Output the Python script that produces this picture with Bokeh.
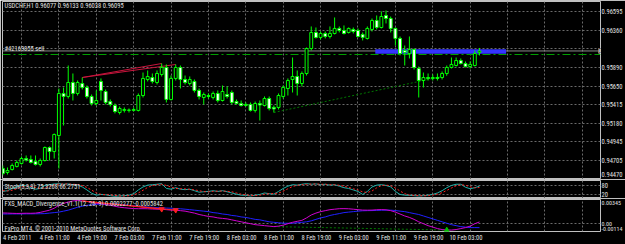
from bokeh.plotting import figure
from bokeh.layouts import column
from bokeh.models import Range1d, FixedTicker, ColumnDataSource, Label, Span
from bokeh.embed import file_html
from bokeh.resources import INLINE

# ---------------- data (USDCHF, H1) ----------------
opens = [
    0.94607, 0.94557, 0.94595, 0.94633, 0.94671, 0.94734, 0.94721, 0.94696, 0.94658, 0.94708,
    0.94873, 0.94822, 0.95025, 0.95557, 0.95519, 0.95696, 0.95557, 0.95683, 0.95633, 0.95519,
    0.95430, 0.95709, 0.95582, 0.95455, 0.95405, 0.95316, 0.95342, 0.95342, 0.95342, 0.95342,
    0.95531, 0.95734, 0.95759, 0.95696, 0.95797, 0.95886, 0.95481, 0.95747, 0.95886, 0.95734,
    0.95683, 0.95709, 0.95595, 0.95506, 0.95531, 0.95506, 0.95557, 0.95468, 0.95544, 0.95569,
    0.95455, 0.95430, 0.95405, 0.95418, 0.95342, 0.95430, 0.95405, 0.95493, 0.95380, 0.95380,
    0.95519, 0.95620, 0.95734, 0.95772, 0.95683, 0.95810, 0.96126, 0.96329, 0.96266, 0.96316,
    0.96278, 0.96316, 0.96380, 0.96354, 0.96329, 0.96367, 0.96354, 0.96304, 0.96253, 0.96367,
    0.96481, 0.96392, 0.96544, 0.96506, 0.96380, 0.96253, 0.96101, 0.96063, 0.96114, 0.95873,
    0.95721, 0.95759, 0.95747, 0.95759, 0.95759, 0.95810, 0.95886, 0.95911, 0.95974, 0.95936,
    0.95898, 0.95911, 0.96077]
highs = [
    0.94645, 0.94620, 0.94671, 0.94708, 0.94759, 0.94772, 0.94772, 0.94772, 0.94734, 0.94886,
    0.94886, 0.95050, 0.95620, 0.95633, 0.95911, 0.95810, 0.95721, 0.95759, 0.95658, 0.95544,
    0.95595, 0.95747, 0.95607, 0.95481, 0.95430, 0.95392, 0.95380, 0.95367, 0.95380, 0.95557,
    0.95822, 0.95848, 0.95810, 0.95848, 0.95936, 0.95924, 0.95784, 0.95924, 0.95911, 0.95784,
    0.95772, 0.95734, 0.95620, 0.95569, 0.95557, 0.95582, 0.95595, 0.95658, 0.95645, 0.95595,
    0.95481, 0.95468, 0.95443, 0.95443, 0.95455, 0.95468, 0.95519, 0.95519, 0.95405, 0.95557,
    0.95658, 0.95747, 0.96012, 0.95848, 0.95835, 0.96139, 0.96405, 0.96392, 0.96341, 0.96341,
    0.96405, 0.96519, 0.96405, 0.96418, 0.96392, 0.96392, 0.96380, 0.96329, 0.96405, 0.96506,
    0.96544, 0.96595, 0.96607, 0.96531, 0.96392, 0.96278, 0.96164, 0.96278, 0.96126, 0.95898,
    0.95822, 0.95810, 0.95797, 0.95810, 0.95835, 0.95911, 0.96012, 0.96012, 0.96000, 0.95962,
    0.95962, 0.96101, 0.96133]
lows = [
    0.94519, 0.94531, 0.94582, 0.94620, 0.94658, 0.94696, 0.94671, 0.94645, 0.94633, 0.94696,
    0.94708, 0.94734, 0.94607, 0.95152, 0.95493, 0.95468, 0.95531, 0.95607, 0.95493, 0.95405,
    0.95405, 0.95468, 0.95418, 0.95392, 0.95304, 0.95291, 0.95316, 0.95316, 0.95329, 0.95329,
    0.95506, 0.95709, 0.95683, 0.95671, 0.95772, 0.95443, 0.95468, 0.95721, 0.95620, 0.95671,
    0.95658, 0.95569, 0.95481, 0.95418, 0.95493, 0.95481, 0.95443, 0.95455, 0.95493, 0.95418,
    0.95418, 0.95392, 0.95392, 0.95329, 0.95316, 0.95215, 0.95392, 0.95342, 0.95316, 0.95354,
    0.95493, 0.95531, 0.95569, 0.95531, 0.95645, 0.95784, 0.96101, 0.96253, 0.96240, 0.96253,
    0.96253, 0.96304, 0.96329, 0.96304, 0.96316, 0.96316, 0.96266, 0.96228, 0.96240, 0.96341,
    0.96367, 0.96380, 0.96443, 0.96329, 0.96164, 0.96038, 0.95911, 0.96000, 0.95860, 0.95506,
    0.95633, 0.95721, 0.95721, 0.95721, 0.95734, 0.95784, 0.95873, 0.95898, 0.95924, 0.95886,
    0.95873, 0.95898, 0.96038]
closes = [
    0.94544, 0.94582, 0.94645, 0.94683, 0.94734, 0.94715, 0.94683, 0.94658, 0.94708, 0.94873,
    0.94822, 0.95038, 0.95557, 0.95519, 0.95696, 0.95557, 0.95696, 0.95633, 0.95519, 0.95430,
    0.95468, 0.95595, 0.95443, 0.95418, 0.95329, 0.95367, 0.95354, 0.95348, 0.95354, 0.95531,
    0.95747, 0.95772, 0.95709, 0.95810, 0.95886, 0.95481, 0.95747, 0.95886, 0.95734, 0.95696,
    0.95734, 0.95595, 0.95519, 0.95544, 0.95519, 0.95557, 0.95468, 0.95582, 0.95519, 0.95443,
    0.95430, 0.95405, 0.95418, 0.95342, 0.95430, 0.95411, 0.95493, 0.95367, 0.95361, 0.95531,
    0.95633, 0.95721, 0.95772, 0.95683, 0.95810, 0.96126, 0.96329, 0.96266, 0.96316, 0.96278,
    0.96316, 0.96380, 0.96354, 0.96316, 0.96380, 0.96341, 0.96278, 0.96266, 0.96380, 0.96481,
    0.96392, 0.96531, 0.96506, 0.96380, 0.96253, 0.96063, 0.96076, 0.96114, 0.95886, 0.95721,
    0.95759, 0.95747, 0.95759, 0.95747, 0.95810, 0.95886, 0.95924, 0.95974, 0.95936, 0.95898,
    0.95924, 0.96063, 0.96095]

stoch_main = [
    40, 45, 60, 70, 80, 78, 65, 55, 60, 80,
    85, 90, 92, 88, 90, 85, 82, 70, 50, 28,
    15, 20, 18, 12, 8, 10, 12, 15, 25, 50,
    70, 82, 85, 88, 92, 60, 55, 65, 55, 52,
    55, 45, 35, 38, 40, 45, 40, 45, 38, 30,
    22, 15, 14, 10, 15, 20, 30, 25, 22, 40,
    60, 75, 85, 82, 88, 92, 88, 90, 85, 88,
    82, 85, 75, 65, 60, 50, 40, 20, 40, 70,
    82, 85, 80, 70, 40, 20, 15, 14, 12, 10,
    12, 15, 20, 30, 45, 65, 80, 88, 88, 68,
    58, 65, 75.3268]
stoch_signal = [
    45, 43, 48, 58, 70, 76, 74, 66, 60, 65,
    75, 85, 89, 90, 90, 88, 86, 79, 67, 49,
    31, 21, 18, 17, 13, 10, 10, 12, 17, 30,
    48, 67, 79, 85, 88, 80, 69, 60, 58, 57,
    54, 51, 45, 39, 38, 41, 42, 43, 41, 38,
    30, 22, 17, 13, 13, 15, 22, 25, 26, 29,
    41, 58, 73, 81, 85, 87, 89, 90, 88, 88,
    85, 85, 81, 75, 67, 58, 50, 37, 33, 43,
    64, 79, 82, 78, 63, 43, 25, 16, 14, 12,
    11, 12, 16, 22, 32, 47, 63, 78, 85, 81,
    71, 64, 66.2751]

macd_main = [
    0.00152, 0.00150, 0.00147, 0.00145, 0.00146, 0.00148, 0.00147, 0.00150, 0.00160, 0.00176,
    0.00192, 0.00220, 0.00262, 0.00289, 0.00310, 0.00324, 0.00331, 0.00324, 0.00317, 0.00303,
    0.00289, 0.00282, 0.00275, 0.00262, 0.00248, 0.00234, 0.00227, 0.00220, 0.00215, 0.00213,
    0.00213, 0.00212, 0.00208, 0.00206, 0.00206, 0.00199, 0.00193, 0.00192, 0.00185, 0.00178,
    0.00164, 0.00150, 0.00130, 0.00116, 0.00102, 0.00095, 0.00081, 0.00074, 0.00067, 0.00053,
    0.00039, 0.00025, 0.00011, -0.00002, -0.00016, -0.00023, -0.00030, -0.00037, -0.00044, -0.00037,
    -0.00023, -0.00002, 0.00018, 0.00032, 0.00046, 0.00081, 0.00123, 0.00150, 0.00171, 0.00185,
    0.00199, 0.00206, 0.00213, 0.00214, 0.00212, 0.00206, 0.00199, 0.00193, 0.00192, 0.00193,
    0.00198, 0.00200, 0.00197, 0.00185, 0.00164, 0.00137, 0.00109, 0.00088, 0.00060, 0.00025,
    -0.00002, -0.00030, -0.00051, -0.00072, -0.00086, -0.00093, -0.00093, -0.00086, -0.00072, -0.00058,
    -0.00037, -0.00002, 0.0002277]
macd_signal = [
    0.00137, 0.00137, 0.00138, 0.00138, 0.00138, 0.00139, 0.00139, 0.00140, 0.00141, 0.00143,
    0.00150, 0.00157, 0.00164, 0.00178, 0.00192, 0.00213, 0.00234, 0.00248, 0.00262, 0.00269,
    0.00275, 0.00280, 0.00282, 0.00282, 0.00281, 0.00275, 0.00269, 0.00262, 0.00255, 0.00248,
    0.00241, 0.00238, 0.00234, 0.00229, 0.00227, 0.00222, 0.00220, 0.00215, 0.00212, 0.00206,
    0.00199, 0.00192, 0.00185, 0.00178, 0.00171, 0.00157, 0.00150, 0.00137, 0.00130, 0.00116,
    0.00109, 0.00095, 0.00088, 0.00074, 0.00060, 0.00053, 0.00039, 0.00025, 0.00018, 0.00011,
    0.00005, 0.00004, 0.00005, 0.00011, 0.00018, 0.00025, 0.00039, 0.00060, 0.00081, 0.00095,
    0.00116, 0.00130, 0.00143, 0.00157, 0.00164, 0.00171, 0.00178, 0.00183, 0.00185, 0.00186,
    0.00189, 0.00191, 0.00192, 0.00192, 0.00187, 0.00178, 0.00171, 0.00157, 0.00143, 0.00130,
    0.00109, 0.00088, 0.00067, 0.00046, 0.00025, 0.00005, -0.00016, -0.00030, -0.00044, -0.00051,
    -0.00058, -0.00058, -0.0005842]

price_ticks = [0.96595, 0.96360, 0.96125, 0.95890, 0.95650, 0.95415, 0.95180, 0.94945, 0.94705, 0.94470]
price_tick_labels = ["0.96595", "0.96360", "", "0.95890", "0.95650", "0.95415",
                     "0.95180", "0.94945", "0.94705", "0.94470"]
stoch_levels = [80, 20]
stoch_level_labels = ["80", "20"]
macd_tick_values = [0.00345, 0.0, -0.00114]
macd_tick_labels = ["0.00345", "0.00", "-0.00114"]
time_bars = [0, 8, 16, 24, 32, 40, 48, 56, 64, 72, 80, 88, 96]
time_labels = ["4 Feb 2011", "4 Feb 11:00", "4 Feb 19:00", "7 Feb 03:00", "7 Feb 11:00",
               "7 Feb 19:00", "8 Feb 03:00", "8 Feb 11:00", "8 Feb 19:00", "9 Feb 03:00",
               "9 Feb 11:00", "9 Feb 19:00", "10 Feb 03:00"]
grid_bars = [4, 12, 20, 28, 36, 44, 52, 60, 68, 76, 84, 92, 100, 108, 116, 124]

bid_price = 0.96095
order_price = 0.96050
blue_line_bars = [79.7, 107.7]
blue_line_price = 0.96088
red_div_from = 17
red_div_to = [34, 37]
green_div_from = 58
green_div_to = 95

title_text = "USDCHF,H1  0.96077 0.96133 0.96038 0.96095"
order_text = "#42169855 sell"
stoch_text = "Stoch(5,3,3) 75.3268 66.2751"
macd_text = "FXS_MACD_Divergence_v1.1(12, 26, 9) 0.0002277 -0.0005842"
copy_text = "FxPro MT4, \u00a9 2001-2010 MetaQuotes Software Corp."

# ---------------- style ----------------
FONT = "Roboto Condensed, DejaVu Sans Condensed, sans-serif"
FS = "6.5px"
LIME = "#00ff00"
GRID = "#6a6a6a"
BORDER = "#c0c0c0"
TXT = "#e0e0e0"

n = len(opens)
bars = list(range(n))
bar_px = 4.65
x_start = -0.065
x_range = Range1d(x_start, x_start + 595 / bar_px)


def make_fig(height, y_range, top, bottom, with_x_axis=False):
    f = figure(width=625, height=height, x_range=x_range, y_range=y_range,
               output_backend="svg", toolbar_location=None,
               background_fill_color="black", border_fill_color="black",
               min_border_left=2, min_border_right=22, min_border_top=top,
               min_border_bottom=bottom, outline_line_color=BORDER, outline_line_width=1,
               x_axis_location="below" if with_x_axis else None, y_axis_location="right")
    f.xgrid.ticker = FixedTicker(ticks=grid_bars)
    for g in (f.xgrid, f.ygrid):
        g.grid_line_color = GRID
        g.grid_line_dash = "2 2"
        g.grid_line_width = 1
    ax = f.yaxis[0]
    ax.axis_label = None
    ax.axis_label_standoff = 0
    ax.axis_line_color = None
    ax.major_tick_line_color = None
    ax.minor_tick_line_color = None
    ax.major_tick_out = 0
    ax.major_tick_in = 0
    ax.minor_tick_out = 0
    ax.minor_tick_in = 0
    ax.major_label_standoff = 1
    ax.major_label_text_font = FONT
    ax.major_label_text_font_size = FS
    ax.major_label_text_color = TXT
    return f


def add_text(f, text, x, y, y_units="data", baseline="middle"):
    f.add_layout(Label(x=x, y=y, x_units="screen", y_units=y_units, text=text,
                       text_font=FONT, text_font_size=FS, text_color=TXT,
                       text_baseline=baseline))


# ---------------- main price panel ----------------
p = make_fig(179, Range1d(0.94468, 0.96721), top=1, bottom=0)
axis_pos = price_ticks[:-1] + [0.94530]  # bottom label lifted inside the panel, as in MT4
p.yaxis.ticker = FixedTicker(ticks=axis_pos)
p.yaxis.major_label_overrides = {v: t for v, t in zip(axis_pos, price_tick_labels)}
p.ygrid.ticker = FixedTicker(ticks=price_ticks)

p.add_layout(Span(location=order_price, dimension="width", line_color="#00a000",
                  line_width=1, line_dash="8 3 2 3", level="underlay"))
p.add_layout(Span(location=bid_price, dimension="width", line_color="#8a8a8a",
                  line_width=1, level="underlay"))

p.segment(x0=[blue_line_bars[0]], y0=[blue_line_price], x1=[blue_line_bars[1]],
          y1=[blue_line_price], line_color="#3434ff", line_width=4.5)
p.segment(x0=[red_div_from] * 2, y0=[highs[red_div_from]] * 2, x1=red_div_to,
          y1=[highs[i] for i in red_div_to], line_color="#c8143c", line_width=1)
p.segment(x0=[green_div_from], y0=[lows[green_div_from]], x1=[green_div_to],
          y1=[lows[green_div_to]], line_color="#007800", line_width=1, line_dash="2 2")

src = ColumnDataSource(dict(
    x=bars, high=highs, low=lows,
    top=[max(o, c) for o, c in zip(opens, closes)],
    bottom=[min(o, c) for o, c in zip(opens, closes)],
    fill=["black" if c >= o else "white" for o, c in zip(opens, closes)]))
p.segment(x0="x", y0="high", x1="x", y1="low", source=src, line_color=LIME, line_width=1)
p.vbar(x="x", width=0.62, top="top", bottom="bottom", fill_color="fill",
       line_color=LIME, line_width=1, source=src)

add_text(p, title_text, 2, 174, y_units="screen")
add_text(p, order_text, 2, order_price + 0.00013, baseline="bottom")
p.add_layout(Label(x=596, y=bid_price, x_units="screen", text="0.96095",
                   text_font=FONT, text_font_size=FS, text_color="black",
                   text_baseline="middle", background_fill_color="white"))

# ---------------- stochastic panel ----------------
s = make_fig(19, Range1d(-7, 113), top=1, bottom=0)
s.yaxis.ticker = FixedTicker(ticks=stoch_levels)
s.yaxis.major_label_overrides = {v: t for v, t in zip(stoch_levels, stoch_level_labels)}
s.ygrid.ticker = FixedTicker(ticks=stoch_levels)
s.line(bars, stoch_main, line_color="#20b2aa", line_width=1)
s.line(bars, stoch_signal, line_color="#ff2020", line_width=1, line_dash="2 2")
add_text(s, stoch_text, 2, 66.7)

# ---------------- MACD panel ----------------
m = make_fig(46, Range1d(-0.00114, 0.00345), top=1, bottom=12, with_x_axis=True)
macd_label_pos = [0.00289, 0.0, -0.00072]  # MT4 keeps edge labels inside the window
m.yaxis.ticker = FixedTicker(ticks=macd_label_pos)
m.yaxis.major_label_overrides = {v: t for v, t in zip(macd_label_pos, macd_tick_labels)}
m.yaxis.major_label_text_font_size = "6px"
m.ygrid.ticker = FixedTicker(ticks=[0.0])

m.segment(x0=[green_div_from], y0=[macd_main[green_div_from]], x1=[green_div_to],
          y1=[macd_main[green_div_to]], line_color="#007800", line_width=1, line_dash="2 2")
m.line(bars, macd_signal, line_color="#2020ff", line_width=1)
m.line(bars, macd_main, line_color="#d000d0", line_width=1)
m.segment(x0=[red_div_from] * 2, y0=[macd_main[red_div_from]] * 2, x1=red_div_to,
          y1=[macd_main[i] for i in red_div_to], line_color="#ff2020", line_width=1)
m.scatter(x=red_div_to, y=[macd_main[i] for i in red_div_to], marker="inverted_triangle",
          size=5, color="#ff2020")
m.scatter(x=[green_div_to], y=[macd_main[green_div_to]], marker="triangle",
          size=5, color="#00c000")

tick_pos = [b + 3.1 for b in time_bars]  # labels start at the bar, MT4 style
m.xaxis.ticker = FixedTicker(ticks=tick_pos)
m.xaxis.major_label_overrides = {v: t for v, t in zip(tick_pos, time_labels)}
m.xaxis.axis_label = None
m.xaxis.axis_line_color = None
m.xaxis.major_tick_line_color = None
m.xaxis.minor_tick_line_color = None
m.xaxis.major_tick_out = 0
m.xaxis.major_tick_in = 0
m.xaxis.major_label_standoff = 2
m.xaxis.major_label_text_font = FONT
m.xaxis.major_label_text_font_size = FS
m.xaxis.major_label_text_color = TXT

add_text(m, macd_text, 2, 0.00275)
add_text(m, copy_text, 2, -0.00072)

layout = column(p, s, m, spacing=0)
open("out.html", "w").write(file_html(layout, INLINE))
